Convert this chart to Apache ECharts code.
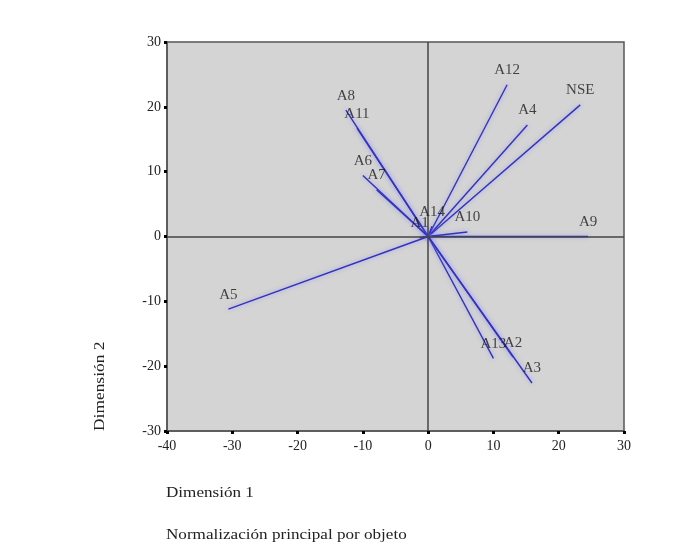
<!DOCTYPE html>
<html>
<head>
<meta charset="utf-8">
<script src="https://cdn.jsdelivr.net/npm/echarts@6/dist/echarts.min.js"></script>
<style>
html,body{margin:0;padding:0;background:#fff;}
#chart{width:678px;height:551px;}
</style>
</head>
<body>
<div id="chart"></div>
<script>
// Variable names and their vector endpoints (Dimensión 1, Dimensión 2)
var names = ['A12', 'NSE', 'A4', 'A9', 'A10', 'A14', 'A1', 'A8', 'A11', 'A6', 'A7', 'A5', 'A13', 'A2', 'A3'];
var dim1  = [12.1, 23.3, 15.2, 24.5, 6.0, 0.6, -1.3, -12.6, -10.9, -10.0, -7.9, -30.6, 10.0, 13.0, 15.9];
var dim2  = [23.4, 20.3, 17.2, 0.0, 0.7, 1.6, -0.2, 19.5, 16.7, 9.4, 7.2, -11.2, -18.8, -18.6, -22.6];
var xTicks = [-40, -30, -20, -10, 0, 10, 20, 30];
var yTicks = [-30, -20, -10, 0, 10, 20, 30];

var serif = 'Liberation Serif, DejaVu Serif, serif';
var lineColor = '#3232bc';

var vectorSeries = names.map(function (n, i) {
  return {
    type: 'line',
    name: n,
    data: [[0, 0], [dim1[i], dim2[i]]],
    symbol: 'none',
    silent: true,
    z: 3,
    lineStyle: { color: lineColor, width: 1.4, shadowColor: 'rgba(120,120,255,0.6)', shadowBlur: 4 }
  };
});

var labelSeries = {
  type: 'scatter',
  data: names.map(function (n, i) { return { name: n, value: [dim1[i], dim2[i]] }; }),
  symbolSize: 0,
  z: 5,
  label: {
    show: true,
    position: 'top',
    distance: 7,
    formatter: function (p) { return p.name; },
    fontFamily: serif,
    fontSize: 15,
    color: '#1a1a1a'
  }
};

var axisSeries = {
  type: 'line',
  data: [],
  z: 4,
  markLine: {
    silent: true,
    symbol: 'none',
    label: { show: false },
    lineStyle: { color: '#444', width: 1.5, type: 'solid' },
    data: [{ xAxis: 0 }, { yAxis: 0 }]
  }
};

var chart = echarts.init(document.getElementById('chart'), null, { renderer: 'canvas' });
chart.setOption({
  animation: false,
  backgroundColor: '#ffffff',
  grid: {
    left: 167, top: 42, width: 457, height: 389,
    show: true, backgroundColor: '#d4d4d4', borderColor: '#555', borderWidth: 1.5
  },
  xAxis: {
    type: 'value', min: xTicks[0], max: xTicks[xTicks.length - 1], interval: 10,
    axisLine: { show: true, onZero: false, lineStyle: { color: '#555', width: 1.5 } },
    axisTick: { show: true, length: 3, lineStyle: { color: '#000', width: 3 } },
    splitLine: { show: false },
    axisLabel: { fontFamily: serif, fontSize: 14, color: '#222', margin: 8 }
  },
  yAxis: {
    type: 'value', min: yTicks[0], max: yTicks[yTicks.length - 1], interval: 10,
    axisLine: { show: true, onZero: false, lineStyle: { color: '#555', width: 1.5 } },
    axisTick: { show: true, length: 3, lineStyle: { color: '#000', width: 3 } },
    splitLine: { show: false },
    axisLabel: { fontFamily: serif, fontSize: 14, color: '#222', margin: 6 }
  },
  graphic: [
    { type: 'text', x: 166, y: 486, scaleX: 1.14, style: { text: 'Dimensión 1', fontFamily: serif, fontSize: 15, fill: '#222', textVerticalAlign: 'top' } },
    { type: 'text', x: 166, y: 528, scaleX: 1.14, style: { text: 'Normalización principal por objeto', fontFamily: serif, fontSize: 15, fill: '#222', textVerticalAlign: 'top' } },
    { type: 'text', x: 100, y: 431, rotation: Math.PI / 2, scaleX: 1.16, style: { text: 'Dimensión 2', fontFamily: serif, fontSize: 15, fill: '#222', textAlign: 'left', textVerticalAlign: 'middle' } }
  ],
  series: [axisSeries].concat(vectorSeries).concat([labelSeries])
});
</script>
</body>
</html>
